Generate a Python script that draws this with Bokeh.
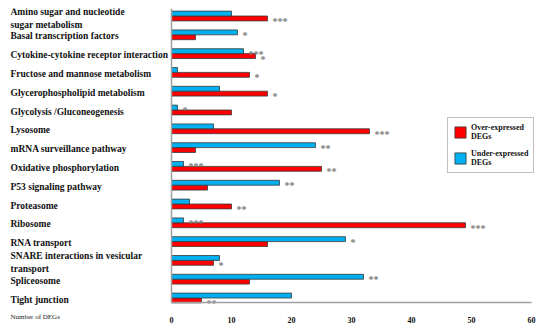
from bokeh.plotting import figure
from bokeh.models import ColumnDataSource, Range1d, Legend, LegendItem, FixedTicker
from bokeh.core.properties import value
from bokeh.embed import file_html
from bokeh.resources import INLINE

categories = [
    "Amino sugar and nucleotide\nsugar metabolism",
    "Basal transcription factors",
    "Cytokine-cytokine receptor interaction",
    "Fructose and mannose metabolism",
    "Glycerophospholipid metabolism",
    "Glycolysis /Gluconeogenesis",
    "Lysosome",
    "mRNA surveillance pathway",
    "Oxidative phosphorylation",
    "P53 signaling pathway",
    "Proteasome",
    "Ribosome",
    "RNA transport",
    "SNARE interactions in vesicular\ntransport",
    "Spliceosome",
    "Tight junction",
]
over_expressed = [16, 4, 14, 13, 16, 10, 33, 4, 25, 6, 10, 49, 16, 7, 13, 5]
under_expressed = [10, 11, 12, 1, 8, 1, 7, 24, 2, 18, 3, 2, 29, 8, 32, 20]
over_sig = ["***", "", "*", "*", "*", "", "***", "", "**", "", "**", "***", "", "*", "", "**"]
under_sig = ["", "*", "***", "", "", "*", "", "**", "***", "**", "", "***", "*", "", "**", ""]
x_ticks = [0, 10, 20, 30, 40, 50, 60]
x_label = "Number of DEGs"

RED = "#FF0000"
BLUE = "#00B0F0"
SERIF = "Liberation Serif"

# layout (pixels)
W, H = 550, 327
frame_left, frame_right = 8, 546
frame_top, frame_bottom = 8, 326
zero_px, sixty_px = 171, 531
px_per_unit = (sixty_px - zero_px) / 60.0
x_start = -(zero_px - frame_left) / px_per_unit
x_end = 60 + (frame_right - sixty_px) / px_per_unit

n = len(categories)
rows = list(range(n))
first_row_px, last_row_px = 15.5, 297.5
row_px = (last_row_px - first_row_px) / (n - 1)
y_top = -(first_row_px - frame_top) / row_px
y_bottom = (n - 1) + (frame_bottom - last_row_px) / row_px
y_axis_line = (n - 1) + (302 - last_row_px) / row_px
y_xlabel = (n - 1) + (316 - last_row_px) / row_px

bar_h = 0.26
red_y = [r + bar_h / 2 for r in rows]
blue_y = [r - bar_h / 2 for r in rows]

p = figure(width=W, height=H, output_backend="svg", toolbar_location=None,
           x_range=Range1d(x_start, x_end), y_range=Range1d(y_bottom, y_top),
           min_border_left=frame_left, min_border_right=W - frame_right,
           min_border_top=frame_top, min_border_bottom=H - frame_bottom)
p.outline_line_color = None
p.xgrid.visible = False
p.ygrid.visible = False

src_red = ColumnDataSource(dict(y=red_y, v=over_expressed, s=over_sig))
src_blue = ColumnDataSource(dict(y=blue_y, v=under_expressed, s=under_sig))

r_red = p.hbar(y="y", right="v", left=0, height=bar_h, source=src_red,
               fill_color=RED, line_color="#3a3a3a", line_width=0.8)
r_blue = p.hbar(y="y", right="v", left=0, height=bar_h, source=src_blue,
                fill_color=BLUE, line_color="#3a3a3a", line_width=0.8)

for src in (src_red, src_blue):
    p.text(x="v", y="y", text="s", source=src, x_offset=5, y_offset=3,
           text_font=value(SERIF), text_font_size="10px", text_font_style="bold",
           text_color="#7a7a7a", text_baseline="middle", text_align="left")

# category labels (split multi-line)
lx, ly, lt, lo = [], [], [], []
for r, c in zip(rows, categories):
    parts = c.split("\n")
    offs = [1.5] if len(parts) == 1 else [-4, 9]
    for part, o in zip(parts, offs):
        lx.append(x_start); ly.append(r); lt.append(part); lo.append(o)
lab_src = ColumnDataSource(dict(x=lx, y=ly, t=lt, o=lo))
p.text(x="x", y="y", text="t", y_offset="o", x_offset=2, source=lab_src,
       text_font=value(SERIF), text_font_size="9.5px", text_font_style="bold",
       text_color="#111111", text_baseline="middle", text_align="left")

xl_src = ColumnDataSource(dict(x=[x_start], y=[y_xlabel], t=[x_label]))
p.text(x="x", y="y", text="t", x_offset=2, source=xl_src,
       text_font=value(SERIF), text_font_size="7px",
       text_color="#222222", text_baseline="middle", text_align="left")

# x axis drawn at the bars' baseline
p.xaxis.fixed_location = y_axis_line
p.xaxis.bounds = (0, 60)
p.xaxis.ticker = FixedTicker(ticks=x_ticks)
p.xaxis.major_tick_line_color = None
p.xaxis.minor_tick_line_color = None
p.xaxis.axis_line_color = "#a0a0a0"
p.xaxis.axis_line_width = 1.5
p.xaxis.major_label_text_font = SERIF
p.xaxis.major_label_text_font_style = "bold"
p.xaxis.major_label_text_font_size = "8px"
p.xaxis.major_label_text_color = "#111111"
p.xaxis.major_label_standoff = 8

# y axis: a plain line at x = 0
p.yaxis.fixed_location = 0
p.yaxis.bounds = (y_top, y_axis_line)
p.yaxis.ticker = FixedTicker(ticks=[])
p.yaxis.major_tick_line_color = None
p.yaxis.minor_tick_line_color = None
p.yaxis.major_label_text_font_size = "0px"
p.yaxis.axis_line_color = "#a0a0a0"
p.yaxis.axis_line_width = 1.5

legend = Legend(items=[LegendItem(label="Over-expressed\nDEGs", renderers=[r_red]),
                       LegendItem(label="Under-expressed\nDEGs", renderers=[r_blue])],
                location=(447 - frame_left, frame_bottom - 173))
legend.label_text_font = SERIF
legend.label_text_font_style = "bold"
legend.label_text_font_size = "8px"
legend.label_text_color = "#111111"
legend.glyph_width = 14
legend.glyph_height = 14
legend.spacing = 8
legend.padding = 5
legend.margin = 0
legend.label_standoff = 4
legend.border_line_color = "#808080"
legend.border_line_width = 1.5
p.add_layout(legend, "center")

open("out.html", "w").write(file_html(p, INLINE))
